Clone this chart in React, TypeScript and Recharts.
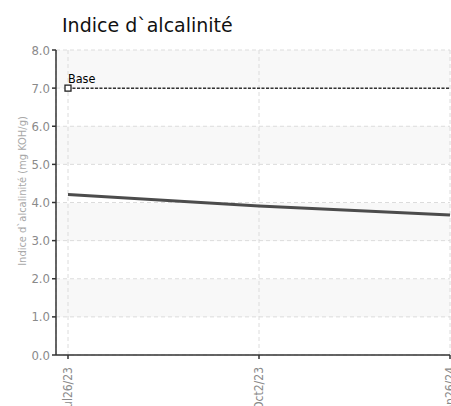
import { LineChart, Line, XAxis, YAxis, CartesianGrid } from 'recharts'

const dates = ['Jul26/23', 'Oct2/23', 'Jan26/24']
const alkalinity = [4.21, 3.91, 3.67]
const base = [7.0, 7.0, 7.0]
const yTicks = [0, 1, 2, 3, 4, 5, 6, 7, 8]

const data = dates.map((d, i) => ({ date: d, value: alkalinity[i], base: base[i] }))

const narrow = '"DejaVu Sans Condensed", "Liberation Sans Narrow", Roboto, sans-serif'

function DateTick(props: any) {
  const { x, y, payload } = props
  const tx = x + 4
  const ty = y + 6
  return (
    <text
      x={tx}
      y={ty}
      transform={`rotate(-90, ${tx}, ${ty})`}
      textAnchor="end"
      fill="#8a8a8a"
      fontSize={12}
      fontFamily={narrow}
    >
      {payload.value}
    </text>
  )
}

function BaseDot(props: any) {
  const { cx, cy, index } = props
  if (index !== 0) return <g key={`b${index}`} />
  return (
    <g key="b0">
      <rect x={cx - 3} y={cy - 3} width={6} height={6} fill="#fff" stroke="#222" strokeWidth={1.3} />
      <text x={cx} y={cy - 5} fill="#000" fontSize={12.5} fontFamily={narrow}>
        Base
      </text>
    </g>
  )
}

export default function App() {
  return (
    <div style={{ position: 'absolute', left: 0, top: 0, width: 451, height: 406, background: '#fff' }}>
      <div
        style={{
          position: 'absolute',
          left: 62,
          top: 14,
          fontFamily: '"DejaVu Sans", Verdana, sans-serif',
          fontSize: 19,
          color: '#111',
          whiteSpace: 'nowrap',
        }}
      >
        Indice d`alcalinité
      </div>
      <LineChart width={451} height={406} data={data} margin={{ top: 50, right: 1, bottom: 0, left: 0 }}>
        <CartesianGrid
          stroke="#dcdcdc"
          strokeDasharray="4 3"
          horizontalFill={['#f8f8f8', '#ffffff']}
          fillOpacity={1}
        />
        <XAxis
          dataKey="date"
          padding={{ left: 12, right: 0 }}
          height={51}
          interval={0}
          tick={<DateTick />}
          tickSize={4}
          axisLine={{ stroke: '#333', strokeWidth: 1.5 }}
          tickLine={{ stroke: '#333', strokeWidth: 1.5 }}
        />
        <YAxis
          domain={[0, 8]}
          ticks={yTicks}
          width={56}
          tickSize={4}
          tickMargin={2}
          tickFormatter={(v: number) => v.toFixed(1)}
          tick={{ fill: '#8a8a8a', fontSize: 13, fontFamily: narrow }}
          axisLine={{ stroke: '#333', strokeWidth: 1.5 }}
          tickLine={{ stroke: '#333', strokeWidth: 1.5 }}
          label={() => (
            <text
              x={26}
              y={191}
              transform="rotate(-90, 26, 191)"
              textAnchor="middle"
              fill="#a8a8a8"
              fontSize={11}
              fontFamily={narrow}
            >
              Indice d`alcalinité (mg KOH/g)
            </text>
          )}
        />
        <Line
          dataKey="base"
          stroke="#333"
          strokeWidth={1.5}
          strokeDasharray="3 1.5"
          dot={BaseDot}
          activeDot={false}
          isAnimationActive={false}
        />
        <Line
          dataKey="value"
          type="linear"
          stroke="#4c4c4c"
          strokeWidth={3}
          dot={false}
          activeDot={false}
          isAnimationActive={false}
        />
      </LineChart>
    </div>
  )
}
